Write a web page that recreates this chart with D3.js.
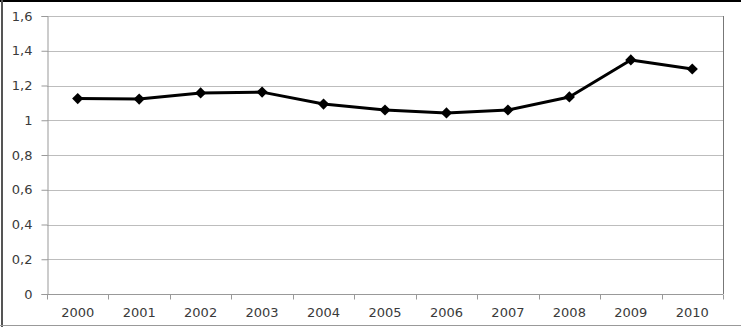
<!DOCTYPE html>
<html><head><meta charset="utf-8">
<script src="https://cdn.jsdelivr.net/npm/d3@7"></script>
<style>body{margin:0;background:#fff}svg{display:block}</style>
</head><body>
<script>
const years = ["2000","2001","2002","2003","2004","2005","2006","2007","2008","2009","2010"];
const values = [1.125, 1.122, 1.157, 1.162, 1.093, 1.059, 1.042, 1.059, 1.134, 1.347, 1.295];
const yTicks = [0, 0.2, 0.4, 0.6, 0.8, 1, 1.2, 1.4, 1.6];
const W = 741, H = 327;
const m = {left: 47, right: 723, top: 16, bottom: 294};
const svg = d3.select("body").append("svg").attr("width", W).attr("height", H);
svg.append("rect").attr("width", W).attr("height", H).attr("fill", "#fff");
// outer frame
svg.append("line").attr("x1",0).attr("x2",W).attr("y1",1).attr("y2",1).attr("stroke","#000").attr("stroke-width",2);
svg.append("line").attr("x1",2).attr("x2",2).attr("y1",0).attr("y2",H).attr("stroke","#555").attr("stroke-width",2);
svg.append("line").attr("x1",0).attr("x2",W).attr("y1",325.5).attr("y2",325.5).attr("stroke","#999").attr("stroke-width",1);

const x = d3.scaleBand().domain(years).range([m.left, m.right]);
const y = d3.scaleLinear().domain([0, 1.6]).range([m.bottom, m.top]);
const fmt = d => String(d).replace(".", ",");
const font = "DejaVu Sans, Verdana, sans-serif";

// gridlines
svg.append("g").selectAll("line").data(yTicks).join("line")
  .attr("x1", m.left).attr("x2", m.right)
  .attr("y1", d => Math.round(y(d)) + 0.5).attr("y2", d => Math.round(y(d)) + 0.5)
  .attr("stroke", "#bdbdbd").attr("stroke-width", 1);
// plot area right border
svg.append("line").attr("x1", m.right+0.5).attr("x2", m.right+0.5).attr("y1", m.top).attr("y2", m.bottom)
  .attr("stroke", "#777").attr("stroke-width", 1);

// y axis
const yAxis = d3.axisLeft(y).tickValues(yTicks).tickFormat(fmt).tickSize(6).tickPadding(9);
const gy = svg.append("g").attr("transform", `translate(${m.left+0.5},0)`).call(yAxis);
gy.select(".domain").attr("stroke", "#999");
gy.selectAll(".tick line").attr("stroke", "#999");
gy.selectAll("text").attr("font-family", font).attr("font-size", 13).attr("fill", "#3a3a3a");

// x axis with ticks at band boundaries
const gx = svg.append("g").attr("transform", `translate(0,${m.bottom+0.5})`);
gx.append("line").attr("x1", m.left).attr("x2", m.right).attr("stroke", "#999");
const bounds = years.map(d => x(d)).concat([m.right]);
gx.selectAll("line.tk").data(bounds).join("line").attr("class","tk")
  .attr("x1", d => Math.round(d)+0.5).attr("x2", d => Math.round(d)+0.5).attr("y1", 0).attr("y2", 5).attr("stroke", "#999");
gx.selectAll("text").data(years).join("text")
  .attr("x", d => x(d) + x.bandwidth()/2).attr("y", 22)
  .attr("text-anchor", "middle")
  .attr("font-family", font).attr("font-size", 13).attr("fill", "#3a3a3a")
  .text(d => d);

// line
const line = d3.line().x((d,i) => x(years[i]) + x.bandwidth()/2).y(d => y(d));
svg.append("path").datum(values).attr("d", line).attr("fill", "none").attr("stroke", "#000").attr("stroke-width", 3).attr("stroke-linejoin","round");
svg.append("g").selectAll("path").data(values).join("path")
  .attr("d", d3.symbol().type(d3.symbolDiamond2).size(80))
  .attr("transform", (d,i) => `translate(${x(years[i]) + x.bandwidth()/2},${y(d)})`)
  .attr("fill", "#000");
</script>
</body></html>
